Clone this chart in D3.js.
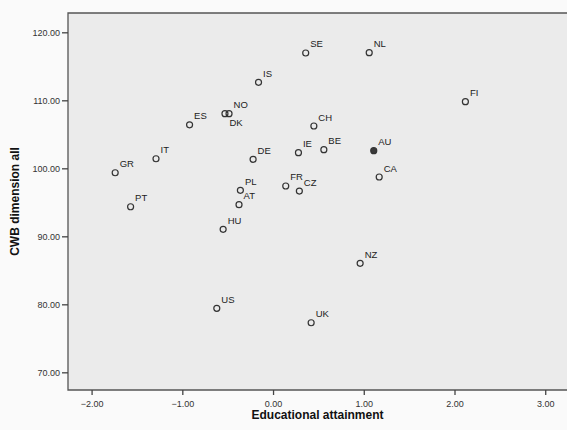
<!DOCTYPE html>
<html>
<head>
<meta charset="utf-8">
<script src="https://cdn.jsdelivr.net/npm/d3@7"></script>
<style>
  html, body { margin: 0; padding: 0; background: #fafafa; }
  svg { display: block; }
</style>
</head>
<body>
<div id="chart"></div>
<script>
// ---- data ----
const countries = ["SE","NL","IS","FI","NO","DK","ES","CH","IE","BE","AU","DE","IT","GR","CA","FR","CZ","PL","AT","PT","HU","NZ","US","UK"];
const education = [0.36, 1.06, -0.16, 2.12, -0.485, -0.53, -0.92, 0.45, 0.28, 0.56, 1.11, -0.22, -1.29, -1.74, 1.17, 0.14, 0.29, -0.36, -0.375, -1.57, -0.55, 0.96, -0.62, 0.42];
const cwb = [116.96, 117.0, 112.65, 109.8, 108.03, 108.03, 106.4, 106.22, 102.3, 102.74, 102.59, 101.32, 101.41, 99.35, 98.72, 97.4, 96.66, 96.76, 94.65, 94.35, 91.03, 86.03, 79.41, 77.29];
const highlighted = ["AU"];
const labelsBelow = ["DK"];
const xTicks = [-2, -1, 0, 1, 2, 3];
const yTicks = [70, 80, 90, 100, 110, 120];
const xTitle = "Educational attainment";
const yTitle = "CWB dimension all";

const W = 567, H = 430;
const plot = {left: 68, top: 13, right: 567, bottom: 390};

const svg = d3.select("#chart").append("svg")
  .attr("width", W).attr("height", H)
  .style("font-family", "'Liberation Sans', Arial, Helvetica, sans-serif");

svg.append("rect").attr("width", W).attr("height", H).attr("fill", "#fafafa");

const x = d3.scaleLinear().domain([-2.26, 3.24]).range([plot.left, plot.right]);
const y = d3.scaleLinear().domain([67.4, 122.84]).range([plot.bottom, plot.top]);

// plot background
svg.append("rect")
  .attr("x", plot.left).attr("y", plot.top)
  .attr("width", plot.right - plot.left).attr("height", plot.bottom - plot.top)
  .attr("fill", "#ebebeb");

// frame lines (left, top, bottom)
const frame = svg.append("g").attr("stroke", "#555").attr("stroke-width", 1.3).attr("fill", "none");
frame.append("path").attr("d", `M${plot.right},${plot.top}H${plot.left}V${plot.bottom}H${plot.right}`);

// x axis
const xAxis = svg.append("g")
  .attr("transform", `translate(0,${plot.bottom})`)
  .call(d3.axisBottom(x).tickValues(xTicks).tickFormat(d3.format(".2f")).tickSize(5).tickSizeOuter(0));
xAxis.select(".domain").remove();
xAxis.selectAll("line").attr("stroke", "#444").attr("stroke-width", 1.3);
xAxis.selectAll("text").attr("fill", "#333").attr("font-size", 9).attr("dy", "0.95em")
  .attr("font-family", "'Liberation Sans', Arial, sans-serif");

// y axis
const yAxis = svg.append("g")
  .attr("transform", `translate(${plot.left},0)`)
  .call(d3.axisLeft(y).tickValues(yTicks).tickFormat(d3.format(".2f")).tickSize(6).tickSizeOuter(0));
yAxis.select(".domain").remove();
yAxis.selectAll("line").attr("stroke", "#444").attr("stroke-width", 1.3);
yAxis.selectAll("text").attr("fill", "#333").attr("font-size", 9).attr("x", -8)
  .attr("font-family", "'Liberation Sans', Arial, sans-serif");

// titles
svg.append("text")
  .attr("x", (plot.left + plot.right) / 2).attr("y", 419)
  .attr("text-anchor", "middle").attr("font-size", 12).attr("font-weight", "bold")
  .attr("fill", "#111").text(xTitle);

svg.append("text")
  .attr("transform", `translate(19,${(plot.top + plot.bottom) / 2}) rotate(-90)`)
  .attr("text-anchor", "middle").attr("font-size", 12).attr("font-weight", "bold")
  .attr("fill", "#111").text(yTitle);

// points
const data = countries.map((c, i) => ({c, ex: education[i], cw: cwb[i]}));
const pts = svg.append("g");
pts.selectAll("circle").data(data).join("circle")
  .attr("cx", d => x(d.ex)).attr("cy", d => y(d.cw)).attr("r", 3)
  .attr("fill", d => highlighted.includes(d.c) ? "#3a3a3a" : "none")
  .attr("stroke", "#333").attr("stroke-width", 1.2);

pts.selectAll("text").data(data).join("text")
  .attr("x", d => x(d.ex) + 4.5)
  .attr("y", d => labelsBelow.includes(d.c) ? y(d.cw) + 12.5 : y(d.cw) - 5.5)
  .attr("font-size", 9.5).attr("fill", "#222")
  .text(d => d.c);
</script>
</body>
</html>
